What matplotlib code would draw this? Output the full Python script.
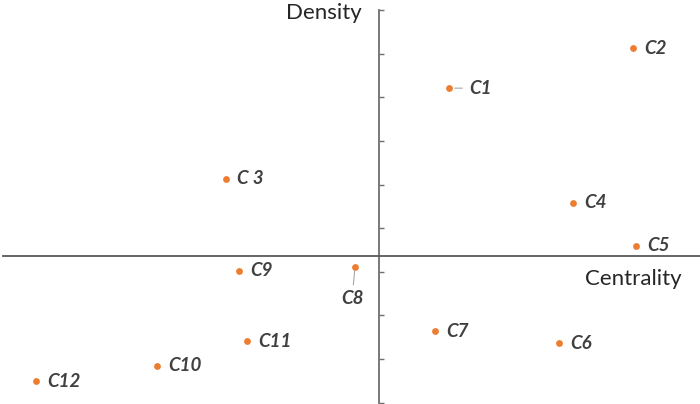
import matplotlib.pyplot as plt

# clusters on the strategic diagram
names = ["C1", "C2", "C 3", "C4", "C5", "C6", "C7", "C8", "C9", "C10", "C11", "C12"]
centrality = [1.61, 5.83, -3.51, 4.45, 5.89, 4.13, 1.28, -0.55, -3.21, -5.09, -3.03, -7.87]
density = [3.85, 4.77, 1.77, 1.22, 0.23, -2.00, -1.72, -0.25, -0.34, -2.52, -1.95, -2.87]

# density axis ticks
yticks = [5.64, 4.64, 3.64, 2.64, 1.64, 0.64, -0.36, -1.36, -2.36, -3.36]

plt.rcParams['font.family'] = ['Lato', 'DejaVu Sans']

fig = plt.figure(figsize=(7, 4.04), dpi=100)
ax = fig.add_axes([0, 0, 1, 1])
ax.set_xlim(-8.693, 7.362)
ax.set_ylim(-3.394, 5.872)

axcol = '#6e6e6e'
for s in ['top', 'right']:
    ax.spines[s].set_visible(False)
ax.spines['left'].set_position(('data', 0))
ax.spines['bottom'].set_position(('data', 0))
ax.spines['left'].set_bounds(yticks[-1], yticks[0])
ax.spines['bottom'].set_bounds(-8.63, 7.362)
ax.spines['left'].set_color(axcol)
ax.spines['bottom'].set_color('#595959')
ax.spines['left'].set_linewidth(1.3)
ax.spines['bottom'].set_linewidth(1.3)

ax.set_xticks([])
ax.set_yticks(yticks)
ax.set_yticklabels([])
ax.tick_params(axis='y', direction='in', length=3.5, width=1.0, color=axcol)

ax.scatter(centrality, density, s=24, color='#ED7D31', zorder=3, linewidths=0)

# label offsets in pixels (dx, dy)
offsets = {"C1": (20, 0), "C8": (-3, -32)}
lab = dict(fontsize=13.5, fontweight='bold', style='italic', color='#404040')
for n, x, y in zip(names, centrality, density):
    dx, dy = offsets.get(n, (11, 0))
    if n == "C1":
        ax.annotate(n, (x, y), xytext=(dx, dy), textcoords='offset pixels',
                    ha='left', va='center', **lab,
                    arrowprops=dict(arrowstyle='-', color='#a6a6a6', lw=0.8,
                                    shrinkA=3, shrinkB=4))
    elif n == "C8":
        ax.annotate(n, (x, y), xytext=(dx, dy), textcoords='offset pixels',
                    ha='center', va='center', **lab,
                    arrowprops=dict(arrowstyle='-', color='#a6a6a6', lw=0.8,
                                    shrinkA=2, shrinkB=3))
    else:
        ax.annotate(n, (x, y), xytext=(dx, dy), textcoords='offset pixels',
                    ha='left', va='center', **lab)

ax.text(-0.39, 5.57, "Density", ha='right', va='center', fontsize=16, color='#262626')
ax.text(6.95, -0.52, "Centrality", ha='right', va='center', fontsize=16, color='#262626')

fig.savefig('out.png', dpi=100)
